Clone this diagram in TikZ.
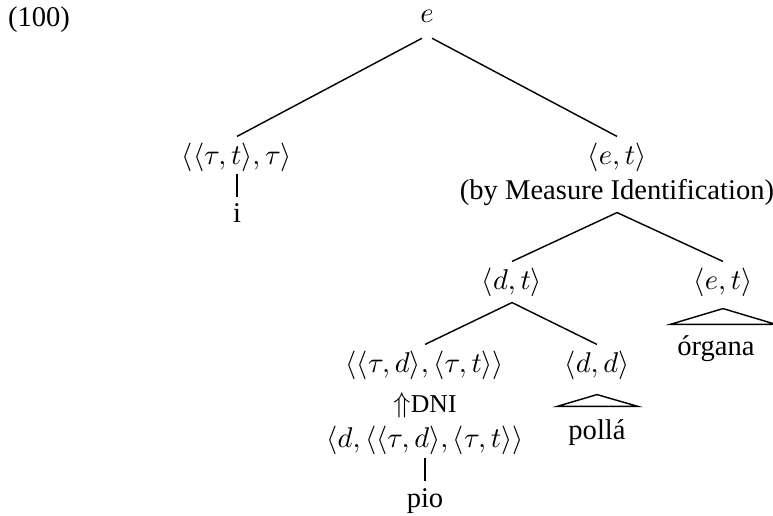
\documentclass[tikz,border=0pt]{standalone}
\usepackage{fontspec}
\setmainfont{Liberation Serif}
\usetikzlibrary{calc}

\tikzset{
  tnode/.style={inner sep=2pt, text height=7.5pt, text depth=2.5pt},
  branch/.style={line width=0.5pt},
}

\begin{document}
\begin{tikzpicture}[x=0.35pt,y=-0.35pt]
\clip (0,0) rectangle (773,515);

\node[anchor=west] (exnum) at (-2,20) {(100)};

% nodes
\node[tnode] (root) at (427,15) {$e$};
\node[tnode] (iota) at (237,157) {$\langle\langle\tau,t\rangle,\tau\rangle$};
\node[tnode] (iword) at (237,215) {i};
\node[tnode] (et) at (617,157) {$\langle e,t\rangle$};
\node[tnode] (mi) at (617,192) {(by Measure Identification)};
\node[tnode] (dt) at (512,282) {$\langle d,t\rangle$};
\node[tnode] (etr) at (723,282) {$\langle e,t\rangle$};
\node[tnode] (shift) at (425,365) {$\langle\langle\tau,d\rangle,\langle\tau,t\rangle\rangle$};
\node[tnode] (dd) at (597,365) {$\langle d,d\rangle$};
\node[tnode] (dni) at (425,405) {$\Uparrow${\small DNI}};
\node[tnode] (pioty) at (425,440) {$\langle d,\langle\langle\tau,d\rangle,\langle\tau,t\rangle\rangle$};
\node[tnode] (pio) at (425,500) {pio};
\node[tnode] (polla) at (597,432) {poll\'a};
\node[tnode] (organa) at (716,348) {\'organa};

% branches
\draw[branch, shorten <=2pt] (root.south) -- (iota.north);
\draw[branch, shorten <=2pt] (root.south) -- (et.north);
\draw[branch] ($(iota.south)+(0,-4)$) -- ($(iword.north)+(0,3)$);
\draw[branch] (mi.south) -- (dt.north);
\draw[branch] (mi.south) -- (etr.north);
\draw[branch] (dt.south) -- (shift.north);
\draw[branch] (dt.south) -- (dd.north);
\draw[branch] ($(pioty.south)+(0,-3)$) -- ($(pio.north)+(0,2)$);

% roofs
\draw[branch] ($(dd.south)+(0,9)$) -- ($(polla.north)+(-40,-5)$) -- ($(polla.north)+(41,-5)$) -- cycle;
\draw[branch] ($(etr.south)+(0,6)$) -- ($(organa.north)+(-46,-3)$) -- ($(organa.north)+(60,-3)$) -- cycle;
\end{tikzpicture}
\end{document}
